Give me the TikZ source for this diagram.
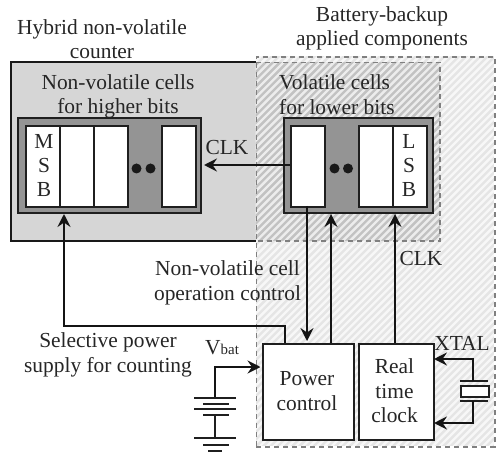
\documentclass[tikz,border=0pt]{standalone}
\usepackage{fontspec}
\setmainfont{Liberation Serif}
\usetikzlibrary{arrows.meta}
\tikzset{
  lbl/.style={inner sep=0pt,align=center,font=\fontsize{21.5}{24.5}\selectfont,text=black!85},
  cell/.style={draw=black!88,line width=2.2bp,fill=white,minimum width=0pt,inner sep=0pt},
  outer/.style={draw=black!88,line width=2.2bp,fill=black!42},
  wire/.style={draw=black!92,line width=2.6bp},
  arr/.style={wire,-{Stealth[length=13bp,width=13bp,inset=4.5bp]}},
  thin wire/.style={draw=black!88,line width=2.2bp},
  dashbox/.style={draw=black!50,line width=1.6bp,dash pattern=on 5bp off 4bp},
}
\begin{document}
\begin{tikzpicture}[x=1bp,y=-1bp]
\useasboundingbox (0,0) rectangle (497,453);
% counter box
\fill[black!16] (11,62.5) rectangle (440,241);
% battery-backup hatched area
\begin{scope}
\clip (255.5,56) rectangle (494,446);
\fill[black!10] (255.5,56) rectangle (494,62.5);
\fill[black!10] (440,56) rectangle (494,446);
\fill[black!10] (255.5,241) rectangle (494,446);
\fill[black!24] (255.5,62.5) rectangle (440,241);
\foreach \k in {0,...,90}{
  \draw[white,line width=2.4bp,opacity=.7] (-190+\k*7.2,500) -- ++(460,-460);
}
\end{scope}
\coordinate (cbTL) at (11,62.5);
\coordinate (cbBL) at (11,241);
\coordinate (cbTM) at (255.5,62.5);
\coordinate (cbBM) at (255.5,241);
\coordinate (cbTR) at (440,62.5);
\coordinate (cbBR) at (440,241);
\draw[draw=black!90,line width=2bp] (cbTM) -- (cbTL) -- (cbBL) -- (cbBM);
\draw[dashbox] (cbTM) -- (cbTR) -- (cbBR) -- (cbBM);
\node[dashbox,minimum width=238.5bp,minimum height=390bp,inner sep=0pt,anchor=north west] (bb) at (255.5,56) {};
% register blocks
\draw[outer] (18,118) rectangle (201,213);
\draw[outer] (284,118) rectangle (433,213);
\foreach \n/\xa/\w in {c1/25/34,c2/59/34,c3/93/34,c4/161/34,v1/290/34,v2/358/34,v3/392/34}{
  \node[cell,anchor=north west,minimum width=\w bp,minimum height=81bp] (\n) at (\xa,125) {};
}
\node[lbl,anchor=center] (m) at (44,165.5) {M\\S\\B};
\node[lbl,anchor=center] (l) at (409,165.5) {L\\S\\B};
\foreach \n/\x in {d1/136.5,d2/150.5,d3/334.5,d4/348}{
  \fill[black!90] (\x,168.5) circle (5bp);
}
% boxes
\node[cell,anchor=north west,minimum width=91bp,minimum height=96bp] (pc) at (262,343) {};
\node[cell,anchor=north west,minimum width=75bp,minimum height=96bp] (rtc) at (358,343) {};
\node[lbl] at (307,391) {Power\\control};
\node[lbl] at (394.5,391) {Real\\time\\clock};
% connectors
\coordinate (pctop1) at (285,343);
\draw[arr] (v1.west|-0,165) -- (204,165);
\draw[arr] (pctop1) |- (64,326) -- (64,214);
\draw[arr] (307,206) -- (307,341);
\draw[arr] (331,343) -- (331,214);
\draw[arr] (395,343) -- (395,214);
% battery
\coordinate (b1) at (215,398);
\coordinate (b2) at (215,415);
\coordinate (b3) at (215,438);
\draw[arr] (b1) |- (260.5,367);
\foreach \y/\a/\b in {398/194/236,404/203/229,409/194/236,415/203/229,438/194/236,445/203/229,451/208/222}{
  \draw[thin wire] (\a,\y) -- (\b,\y);
}
\draw[thin wire] (b2) -- (b3);
% crystal
\node[cell,minimum width=28bp,minimum height=11bp,anchor=north west] (x) at (460,385) {};
\draw[thin wire] (460,381) -- (488,381);
\draw[thin wire] (460,401) -- (488,401);
\draw[arr] (473,381) |- (434,359);
\draw[arr] (473,401) |- (434,423);
% text
\node[lbl] at (102,39) {Hybrid non-volatile\\counter};
\node[lbl] at (118,96.5) {Non-volatile cells\\for higher bits};
\node[lbl] at (382,28.5) {Battery-backup\\applied components};
\node[lbl,anchor=north west] at (279,74) {Volatile cells};
\node[lbl,anchor=north west] at (279,99) {for lower bits};
\node[lbl] at (227,147.5) {CLK};
\node[lbl] at (227.5,283) {Non-volatile cell\\operation control};
\node[lbl] at (108,355) {Selective power\\supply for counting};
\node[lbl] at (421,259) {CLK};
\node[lbl] at (462,343) {XTAL};
\node[lbl,anchor=base west] at (205,354) {V\fontsize{15}{15}\selectfont bat};
\end{tikzpicture}
\end{document}
